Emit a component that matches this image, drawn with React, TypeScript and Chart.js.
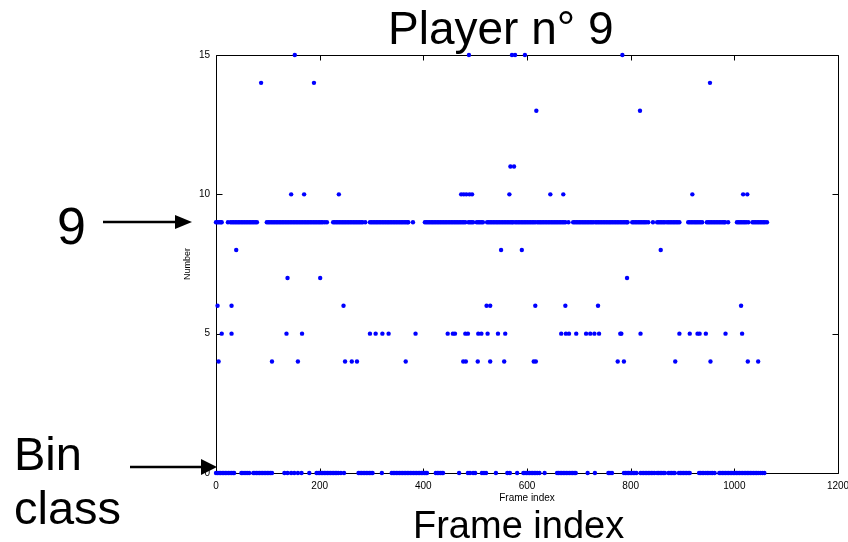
import React, { useEffect, useRef } from "react";
import { Chart, registerables } from "chart.js";

Chart.register(...registerables);

const xTickValues = [0, 200, 400, 600, 800, 1000, 1200];
const yTickValues = [0, 5, 10, 15];

// frame indices for each class value
const class0 = [0,3,6,9,12,15,18,21,24,27,30,33,35,
49,52,56,60,64,
72,75,78,81,84,87,90,93,96,99,102,105,108,
132,138,145,151,158,165,
180,
194,197,200,203,206,209,212,215,218,221,224,227,230,233,236,241,247,
275,278,281,284,287,290,293,296,299,302,
320,
339,342,345,348,351,354,357,360,363,366,369,372,375,378,381,384,387,390,393,396,399,402,405,407,
424,427,430,433,436,438,
469,
486,490,496,500,
513,517,521,
540,
562,567,
581,
593,596,599,602,605,608,611,614,617,620,624,
634,
658,661,664,667,670,673,676,679,682,685,688,691,694,
717,731,
757,760,764,
787,790,793,796,799,802,805,808,811,
819,822,825,828,831,834,837,840,843,846,851,854,857,860,863,866,873,876,879,882,885,893,896,899,902,905,908,911,914,
932,935,938,941,945,948,951,955,958,962,
971,974,977,980,983,986,989,992,995,998,1001,1004,1007,1010,1013,1016,1019,1022,1025,1028,1031,1034,1037,1040,1043,1046,1050,1054,1058];

const class4 = [5,108,158,249,262,272,366,477,482,505,529,556,613,617,775,787,886,954,1026,1046];

const class5 = [11,30,136,166,297,308,321,333,385,447,457,461,481,486,506,512,524,544,558,666,675,681,695,714,722,730,739,780,782,819,894,914,929,933,945,983,1015];

const class6 = [3,30,246,522,529,616,674,737,1013];

const class7 = [138,201,793];

const class8 = [39,550,590,858];

const class9 = [0,3,6,9,11,
23,28,31,34,37,40,43,46,49,52,55,58,61,64,67,70,73,76,79,
98,101,104,107,110,113,116,119,122,125,128,131,134,137,140,143,146,149,152,155,158,161,164,167,170,173,176,179,182,185,188,191,194,197,200,203,206,210,214,
226,229,232,235,238,241,244,247,250,253,256,259,262,265,268,271,274,277,280,283,288,
297,300,303,306,309,312,315,318,321,324,327,330,333,336,339,342,345,348,351,354,357,360,363,366,369,371,
380,
403,406,409,412,415,418,421,424,427,430,433,436,439,442,445,448,451,454,457,460,463,466,469,472,475,478,481,
487,490,493,496,503,506,509,512,515,
523,526,529,532,535,538,541,544,547,550,553,556,559,562,565,568,571,573,
577,580,583,586,589,592,595,598,601,604,607,610,613,616,
620,623,626,629,632,635,638,641,644,647,650,653,656,659,662,665,668,671,674,
680,
689,692,695,698,701,704,707,710,713,716,719,722,725,728,732,
735,738,741,744,747,750,753,756,759,762,
765,768,771,774,777,780,783,786,789,792,794,
803,806,809,812,815,818,821,824,827,830,834,
843,
851,854,857,860,863,866,870,
873,876,879,882,885,888,891,894,
911,914,917,920,923,926,929,932,935,938,
947,950,953,956,959,962,965,968,971,974,977,980,982,
988,
1005,1008,1011,1014,1017,1020,1023,1027,
1035,1038,1041,1044,1047,1050,1053,1056,1059,1063];

const class10 = [145,170,237,473,478,483,489,494,566,645,670,919,1017,1025];

const class11 = [568,575];

const class13 = [618,818];

const class14 = [87,189,953];

const class15 = [152,488,571,577,596,784];

const classLevels: [number, number[]][] = [
  [0, class0], [4, class4], [5, class5], [6, class6], [7, class7], [8, class8],
  [9, class9], [10, class10], [11, class11], [13, class13], [14, class14], [15, class15],
];

const FONT = "'Liberation Sans', Arial, Helvetica, sans-serif";

export default function App() {
  const ref = useRef<HTMLCanvasElement>(null);

  useEffect(() => {
    if (!ref.current) return;
    const points = classLevels.flatMap(([y, xs]) => xs.map((x) => ({ x, y })));

    const framePlugin = {
      id: "matlabFrame",
      beforeDatasetsDraw(chart: any) {
        const { ctx, chartArea } = chart;
        const { left, right, top, bottom } = chartArea;
        const xs = chart.scales.x;
        const ys = chart.scales.y;
        ctx.save();
        ctx.strokeStyle = "#000";
        ctx.lineWidth = 1;
        const L = Math.round(left) + 0.5;
        const R = Math.round(right) + 0.5;
        const T = Math.round(top) + 0.5;
        const B = Math.round(bottom) + 0.5;
        ctx.beginPath();
        ctx.rect(L, T, R - L, B - T);
        ctx.stroke();
        ctx.beginPath();
        xTickValues.forEach((v) => {
          const px = Math.round(xs.getPixelForValue(v)) + 0.5;
          ctx.moveTo(px, B);
          ctx.lineTo(px, B - 5);
          ctx.moveTo(px, T);
          ctx.lineTo(px, T + 5);
        });
        yTickValues.forEach((v) => {
          const py = Math.round(ys.getPixelForValue(v)) + 0.5;
          ctx.moveTo(L, py);
          ctx.lineTo(L + 6, py);
          ctx.moveTo(R, py);
          ctx.lineTo(R - 6, py);
        });
        ctx.stroke();
        ctx.restore();
      },
    };

    const chart = new Chart(ref.current, {
      type: "scatter",
      data: {
        datasets: [
          {
            data: points,
            backgroundColor: "#0000ff",
            borderColor: "#0000ff",
            borderWidth: 0,
            pointRadius: 2.2,
            pointStyle: "circle",
            clip: false as any,
          },
        ],
      },
      options: {
        responsive: false,
        animation: false,
        layout: { padding: { left: 182, top: 55, right: 10, bottom: 0 } },
        plugins: { legend: { display: false }, tooltip: { enabled: false } },
        scales: {
          x: {
            type: "linear",
            min: 0,
            max: 1200,
            afterBuildTicks: (s: any) => {
              s.ticks = xTickValues.map((v) => ({ value: v }));
            },
            afterFit: (s: any) => {
              s.height = 69;
              s.paddingLeft = 0;
              s.paddingRight = 0;
            },
            grid: { display: false, drawTicks: false },
            border: { display: false },
            ticks: {
              color: "#000",
              font: { family: FONT, size: 10 },
              padding: 7,
              maxRotation: 0,
              autoSkip: false,
              callback: (v: any) => String(v),
            },
            title: {
              display: true,
              text: "Frame index",
              color: "#000",
              font: { family: FONT, size: 10 },
              padding: { top: 0, bottom: 38 },
            },
          },
          y: {
            type: "linear",
            min: 0,
            max: 15,
            afterBuildTicks: (s: any) => {
              s.ticks = yTickValues.map((v) => ({ value: v }));
            },
            afterFit: (s: any) => {
              s.width = 34;
              s.paddingTop = 0;
              s.paddingBottom = 0;
            },
            grid: { display: false, drawTicks: false },
            border: { display: false },
            ticks: {
              color: "#000",
              font: { family: FONT, size: 10 },
              padding: 6,
              autoSkip: false,
              callback: (v: any) => String(v),
            },
            title: {
              display: true,
              text: "Number",
              color: "#000",
              font: { family: FONT, size: 9 },
              padding: 0,
            },
          },
        },
      },
      plugins: [framePlugin],
    });
    return () => chart.destroy();
  }, []);

  const big: React.CSSProperties = {
    position: "absolute",
    fontFamily: FONT,
    color: "#000",
    lineHeight: 1,
    whiteSpace: "nowrap",
    margin: 0,
  };

  return (
    <div style={{ position: "absolute", left: 0, top: 0, width: 848, height: 542, background: "#fff", overflow: "hidden" }}>
      <canvas ref={ref} width={848} height={542} style={{ position: "absolute", left: 0, top: 0, width: 848, height: 542 }} />
      <div style={{ ...big, left: 388, top: 5, fontSize: 46 }}>Player n° 9</div>
      <div style={{ ...big, left: 57, top: 200, fontSize: 52 }}>9</div>
      <div style={{ ...big, left: 14, top: 430, fontSize: 47 }}>Bin</div>
      <div style={{ ...big, left: 14, top: 484, fontSize: 47 }}>class</div>
      <div style={{ ...big, left: 413, top: 506, fontSize: 38 }}>Frame index</div>
      <svg width={848} height={542} style={{ position: "absolute", left: 0, top: 0, pointerEvents: "none" }}>
        <line x1={103} y1={222} x2={180} y2={222} stroke="#000" strokeWidth={2.5} />
        <polygon points="175,215 192,222 175,229" fill="#000" />
        <line x1={130} y1={467} x2={205} y2={467} stroke="#000" strokeWidth={2.5} />
        <polygon points="201,459 217,467 201,475" fill="#000" />
      </svg>
    </div>
  );
}
